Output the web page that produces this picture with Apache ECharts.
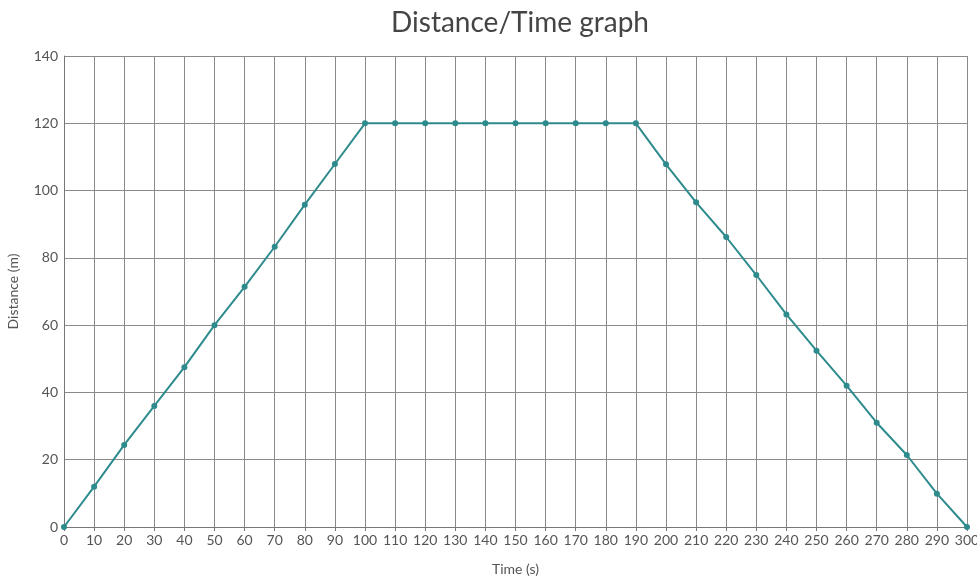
<!DOCTYPE html>
<html>
<head>
<meta charset="utf-8">
<script src="https://cdn.jsdelivr.net/npm/echarts@6/dist/echarts.min.js"></script>
<style>html,body{margin:0;padding:0;background:#fff;}#c{width:977px;height:579px;}</style>
</head>
<body>
<div id="c"></div>
<script>
const times = [0,10,20,30,40,50,60,70,80,90,100,110,120,130,140,150,160,170,180,190,200,210,220,230,240,250,260,270,280,290,300];
const distances = [0,12,24.4,36,47.5,60,71.4,83.3,95.8,107.9,120,120,120,120,120,120,120,120,120,120,107.8,96.5,86.2,74.9,63.2,52.4,42,31,21.4,9.9,0];

const chart = echarts.init(document.getElementById('c'));
const font = 'Lato, "Noto Sans", sans-serif';
chart.setOption({
  animation: false,
  backgroundColor: '#fff',
  title: {
    text: 'Distance/Time graph',
    left: 515,
    textAlign: 'center',
    top: 4,
    textStyle: { fontFamily: font, fontSize: 28, fontWeight: 'normal', color: '#444' }
  },
  grid: { left: 64, right: 10, top: 56, bottom: 52, outerBoundsMode: 'none', containLabel: false },
  xAxis: {
    type: 'value',
    min: 0, max: 300, interval: 10,
    name: 'Time (s)',
    nameLocation: 'middle',
    nameGap: 35,
    nameTextStyle: { fontFamily: font, fontSize: 14, color: '#555' },
    axisLine: { lineStyle: { color: '#777', width: 1 } },
    axisTick: { show: true, length: 4, lineStyle: { color: '#777' } },
    axisLabel: { fontFamily: font, fontSize: 14, color: '#555', margin: 6 },
    splitLine: { show: true, lineStyle: { color: '#8a8a8a', width: 1 } }
  },
  yAxis: {
    type: 'value',
    min: 0, max: 140, interval: 20,
    name: 'Distance (m)',
    nameLocation: 'middle',
    nameGap: 44,
    nameTextStyle: { fontFamily: font, fontSize: 14, color: '#555' },
    axisLine: { show: true, lineStyle: { color: '#777', width: 1 } },
    axisTick: { show: false },
    axisLabel: { fontFamily: font, fontSize: 14, color: '#555', margin: 6 },
    splitLine: { show: true, lineStyle: { color: '#8a8a8a', width: 1 } }
  },
  series: [{
    type: 'line',
    data: times.map((t, i) => [t, distances[i]]),
    symbol: 'circle',
    symbolSize: 6,
    lineStyle: { color: '#2e8b8d', width: 2 },
    itemStyle: { color: '#2e8b8d' }
  }]
});
</script>
</body>
</html>
